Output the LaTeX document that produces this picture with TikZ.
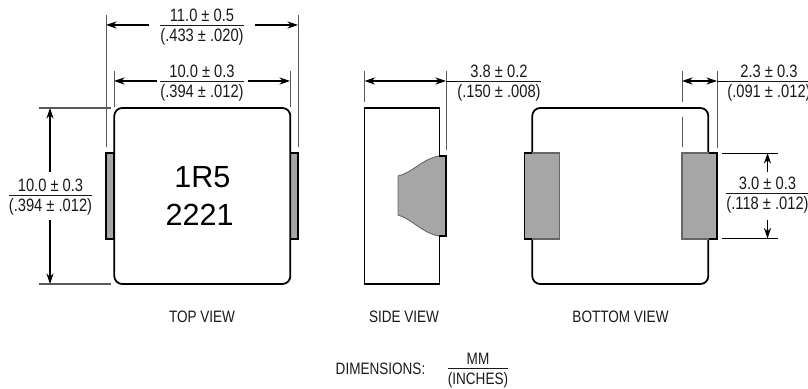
\documentclass[tikz,border=0pt]{standalone}
\usepackage{fontspec}
\usepackage{xcolor}
\usepackage{tikz}
\usetikzlibrary{arrows.meta, calc}
\newfontfamily\narrowfont[FakeStretch=0.82]{Liberation Sans}
\setmainfont{Liberation Sans}
\newcommand{\dimfrac}[2]{\setlength{\tabcolsep}{0pt}\renewcommand{\arraystretch}{0}%
  \begin{tabular}{@{}c@{}}\rule[-1.9pt]{0pt}{12.9pt}#1\\\hline\rule[-3.9pt]{0pt}{12.9pt}#2\end{tabular}}

\begin{document}
\begin{tikzpicture}[
  x=0.2mm, y=-0.2mm,
  body/.style={draw, line width=1pt, fill=white, minimum width=35.2mm, minimum height=35.2mm,
               inner sep=0pt, rounded corners=4.5pt},
  sidebody/.style={draw, line width=1pt, minimum width=15mm, minimum height=35.2mm, inner sep=0pt},
  toptab/.style={draw, line width=0.7pt, fill=black!35, minimum width=1.6mm, minimum height=17.2mm, inner sep=0pt},
  bottab/.style={draw=black!60, line width=0.7pt, fill=black!35, minimum width=7mm, minimum height=17.2mm, inner sep=0pt},
  dimtxt/.style={font=\narrowfont\fontsize{10.2}{11}\selectfont, inner sep=0pt, text=black!90},
  lbl/.style={font=\narrowfont\fontsize{9.4}{10}\selectfont, inner sep=0pt, text=black!90},
  ext/.style={draw=black!65, line width=0.5pt},
  arr/.style={-{Stealth[length=6pt, width=4pt]}, line width=0.6pt},
]
\useasboundingbox (0,0) rectangle (808,389);

% Top view
\node[toptab] (tl) at (110,196) {};
\node[toptab] (tr) at (294,196) {};
\node[body, align=center, font=\fontsize{17.4}{21.8}\selectfont] (topbody) at (202.3,196) {1R5\\\hspace*{-3pt}2221};
\node[lbl] (toplbl) at (202,317) {TOP VIEW};

% Top view, overall width
\coordinate (a1) at (106,15);  \coordinate (a2) at (106,147);
\coordinate (a3) at (298,15);  \coordinate (a4) at (298,147);
\coordinate (a5) at (106,25);  \coordinate (a6) at (149,25);
\coordinate (a7) at (298,25);  \coordinate (a8) at (255,25);
\draw[ext] (a1) -- (a2);
\draw[ext] (a3) -- (a4);
\draw[arr] (a6) -- (a5);
\draw[arr] (a8) -- (a7);
\node[dimtxt] (wout) at (202,25) {\dimfrac{11.0 ± 0.5}{(.433 ± .020)}};

% Top view, body width
\coordinate (b1) at (114,71);  \coordinate (b2) at (114,107);
\coordinate (b3) at (290,71);  \coordinate (b4) at (290,107);
\coordinate (b5) at (114,81);  \coordinate (b6) at (157,81);
\coordinate (b7) at (290,81);  \coordinate (b8) at (248,81);
\draw[ext] (b1) -- (b2);
\draw[ext] (b3) -- (b4);
\draw[arr] (b6) -- (b5);
\draw[arr] (b8) -- (b7);
\node[dimtxt] (wbody) at (202,81) {\dimfrac{10.0 ± 0.3}{(.394 ± .012)}};

% Top view, height
\coordinate (c1) at (39,108);  \coordinate (c2) at (111,108);
\coordinate (c3) at (39,284);  \coordinate (c4) at (111,284);
\coordinate (c5) at (50,108);  \coordinate (c6) at (50,172);
\coordinate (c7) at (50,284);  \coordinate (c8) at (50,220);
\draw[ext, line width=0.7pt] (c1) -- (c2);
\draw[ext, line width=0.7pt] (c3) -- (c4);
\draw[arr] (c6) -- (c5);
\draw[arr] (c8) -- (c7);
\node[dimtxt] (hbody) at (50.5,195) {\dimfrac{10.0 ± 0.3}{(.394 ± .012)}};

% Side view
\node[sidebody] (sidebody) at (402,196) {};
\draw[draw=black!60, line width=0.5pt, fill=black!35] (398,176)
  .. controls (412,173) and (422,159) .. (439,156) -- (446,156) -- (446,236) -- (439,236)
  .. controls (422,233) and (412,219) .. (398,215) -- cycle;
\draw[line width=1pt] (439,155.7) -- (446,155.7) -- (446,236) -- (439,236);
\node[lbl] (sidelbl) at (404,317) {SIDE VIEW};

\coordinate (d1) at (364.5,71); \coordinate (d2) at (364.5,102);
\coordinate (d3) at (446,71);   \coordinate (d4) at (446,150);
\coordinate (d5) at (364.5,81); \coordinate (d6) at (446,81);
\coordinate (d7) at (457,81);
\draw[ext] (d1) -- (d2);
\draw[ext] (d3) -- (d4);
\draw[arr, {Stealth[length=6pt, width=4pt]}-{Stealth[length=6pt, width=4pt]}] (d5) -- (d6);
\draw[ext, black] (d6) -- (d7);
\node[dimtxt] (wside) at (499,81) {\dimfrac{3.8 ± 0.2}{(.150 ± .008)}};

% Bottom view
\node[body] (botbody) at (620.3,196) {};
\node[bottab] (bl) at (541.8,196) {};
\node[bottab] (br) at (699.5,196) {};
\draw[line width=0.8pt] (532,153) -- (524.5,153) -- (524.5,239) -- (532,239);
\draw[line width=0.8pt] (708.5,153) -- (717,153) -- (717,239) -- (708.5,239);
\node[lbl] (botlbl) at (620.5,317) {BOTTOM VIEW};

% Bottom view, terminal width
\coordinate (e1) at (682,71);  \coordinate (e2) at (682,102);
\coordinate (e3) at (682,117); \coordinate (e4) at (682,147);
\coordinate (e5) at (717,71);  \coordinate (e6) at (717,148);
\coordinate (e7) at (682,81);  \coordinate (e8) at (717,81);
\coordinate (e9) at (727,81);
\draw[ext] (e1) -- (e2);
\draw[ext] (e3) -- (e4);
\draw[ext] (e5) -- (e6);
\draw[arr, {Stealth[length=6pt, width=4pt]}-{Stealth[length=6pt, width=4pt]}] (e7) -- (e8);
\draw[ext, black] (e8) -- (e9);
\node[dimtxt] (wterm) at (769,81) {\dimfrac{2.3 ± 0.3}{(.091 ± .012)}};

% Bottom view, terminal height
\coordinate (f1) at (722,153);  \coordinate (f2) at (778,153);
\coordinate (f3) at (722,238.5); \coordinate (f4) at (778,238.5);
\coordinate (f5) at (767.5,153); \coordinate (f6) at (767.5,172);
\coordinate (f7) at (767.5,238.5); \coordinate (f8) at (767.5,220);
\draw[line width=0.5pt] (f1) -- (f2);
\draw[line width=0.5pt] (f3) -- (f4);
\draw[arr] (f6) -- (f5);
\draw[arr] (f8) -- (f7);
\node[dimtxt] (hterm) at (767.5,193.5) {\dimfrac{3.0 ± 0.3}{(.118 ± .012)}};

% Units
\node[lbl] (unitlbl) at (380.5,369) {DIMENSIONS:};
\node[lbl] (unitfrac) at (478,368) {\dimfrac{MM}{(INCHES)}};
\end{tikzpicture}
\end{document}
